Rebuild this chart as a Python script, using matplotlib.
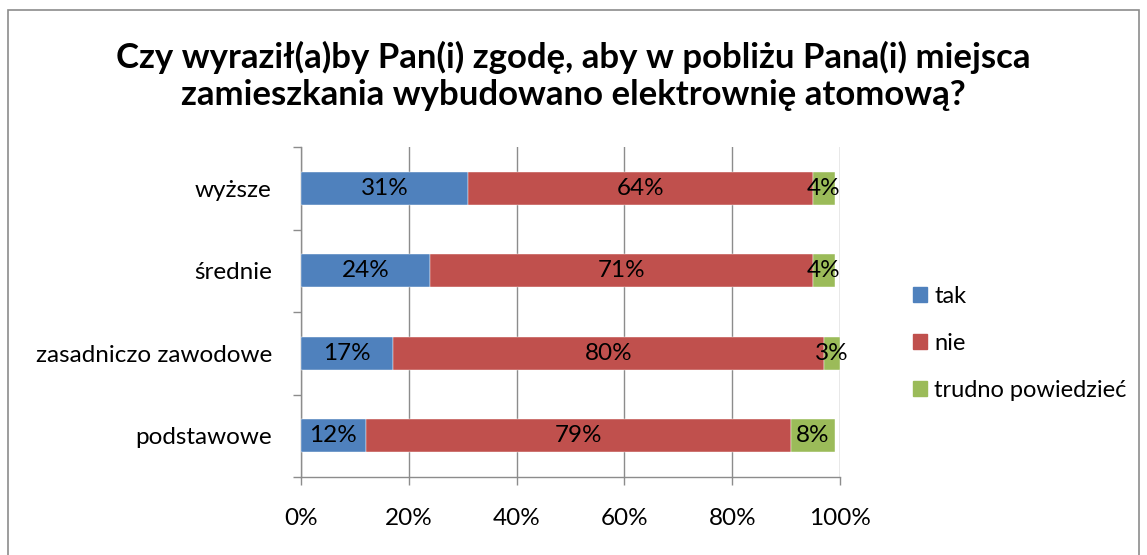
import numpy as np
import matplotlib
matplotlib.use("Agg")
import matplotlib.pyplot as plt
from matplotlib.patches import Rectangle

plt.rcParams['font.family'] = ['Lato', 'DejaVu Sans']

# dane (od dołu do góry)
categories = ["podstawowe", "zasadniczo zawodowe", "średnie", "wyższe"]
series_names = ["tak", "nie", "trudno powiedzieć"]
tak = [12, 17, 24, 31]
nie = [79, 80, 71, 64]
trudno = [8, 3, 4, 4]
colors = ["#4F81BD", "#C0504D", "#9BBB59"]
xticks = [0, 20, 40, 60, 80, 100]

title = ("Czy wyraził(a)by Pan(i) zgodę, aby w pobliżu Pana(i) miejsca\n"
         "zamieszkania wybudowano elektrownię atomową?")

W, H = 1147, 555
fig = plt.figure(figsize=(W / 100, H / 100), dpi=100)
ax = fig.add_axes([301 / W, 1 - 477 / H, 539 / W, 330 / H])

# ramka wykresu
fig.patches.append(Rectangle((8 / W, -0.1), (1139 - 8) / W, 1.1 - 10 / H,
                             transform=fig.transFigure, fill=False,
                             edgecolor="#8c8c8c", linewidth=1.2))

y = np.arange(len(categories))
left = np.zeros(len(categories))
for name, vals, col in zip(series_names, [tak, nie, trudno], colors):
    vals = np.array(vals, dtype=float)
    bars = ax.barh(y, vals, left=left, height=0.4, color=col, label=name,
                   zorder=3, edgecolor="white", linewidth=0.3)
    for b, v in zip(bars, vals):
        ax.text(b.get_x() + b.get_width() / 2, b.get_y() + b.get_height() / 2,
                f"{int(v)}%", ha="center", va="center", fontsize=17.5,
                color="black", zorder=4)
    left += vals

ax.set_xlim(0, 100)
ax.set_ylim(-0.5, len(categories) - 0.5)
ax.set_xticks(xticks)
ax.set_xticklabels([f"{t}%" for t in xticks], fontsize=17.5)
ax.set_yticks(y)
ax.set_yticklabels(categories, fontsize=17.5)
ax.set_yticks(np.arange(-0.5, len(categories), 1), minor=True)
ax.tick_params(axis="y", which="major", length=0, pad=21)
ax.tick_params(axis="y", which="minor", length=6, color="#8c8c8c", width=1)
ax.tick_params(axis="x", length=6, color="#8c8c8c", width=1, pad=16)

ax.grid(axis="x", color="#8c8c8c", linewidth=1, zorder=0)
for s in ["top", "right"]:
    ax.spines[s].set_visible(False)
for s in ["left", "bottom"]:
    ax.spines[s].set_color("#8c8c8c")
    ax.spines[s].set_linewidth(1)

fig.text(573 / W, 1 - 76 / H, title, ha="center", va="center",
         fontsize=25, fontweight="bold", linespacing=1.2)

handles = [Rectangle((0, 0), 1, 1, color=c) for c in colors]
fig.legend(handles, series_names, loc="upper left",
           bbox_to_anchor=(892 / W, 1 - 265 / H), frameon=False,
           fontsize=17, handlelength=0.6, handleheight=0.6,
           handletextpad=0.3, labelspacing=1.1)

fig.savefig("out.png", dpi=100)
